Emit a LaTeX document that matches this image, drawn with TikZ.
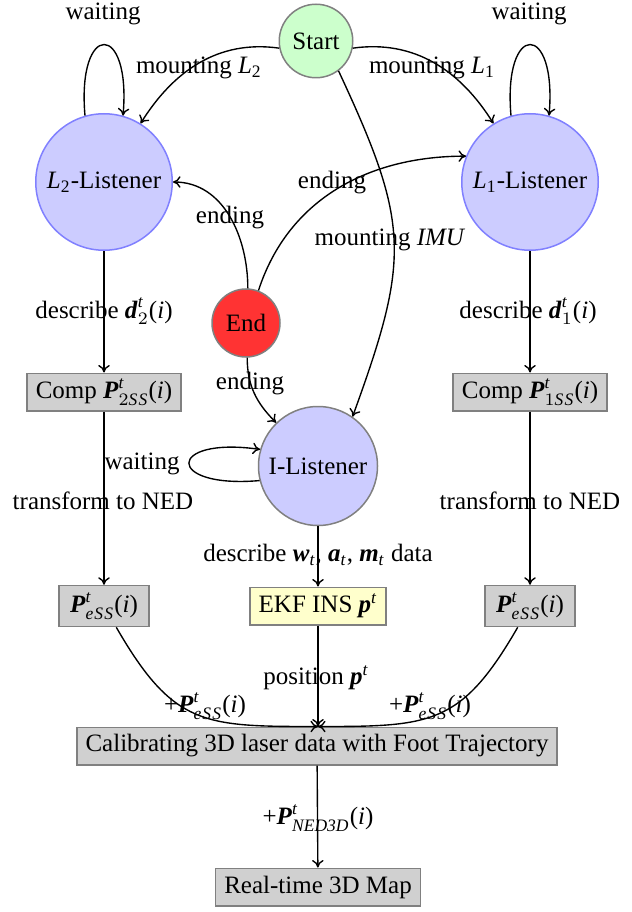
\documentclass[tikz,border=0pt]{standalone}
\usepackage{amsmath}
\usepackage{fontspec}
\setmainfont{Liberation Serif}
\usetikzlibrary{arrows.meta}
\definecolor{startfill}{RGB}{204,255,204}
\definecolor{lisfill}{RGB}{204,204,255}
\definecolor{lisborder}{RGB}{128,128,255}
\definecolor{endfill}{RGB}{255,51,51}
\definecolor{boxfill}{RGB}{208,208,208}
\definecolor{boxborder}{RGB}{128,128,128}
\definecolor{ekffill}{RGB}{255,255,204}
\newcommand{\bv}[1]{\textbf{\textit{#1}}}
\newcommand{\ess}{\textit{e\kern0.4pt S\kern0.5pt S}}
\begin{document}
\begin{tikzpicture}[x=0.4pt,y=0.4pt,
  font=\fontsize{10}{12}\selectfont,
  every node/.style={inner sep=0pt},
  statec/.style={circle,draw=boxborder,line width=0.6pt,align=center},
  boxn/.style={rectangle,draw=boxborder,fill=boxfill,line width=0.6pt,inner xsep=3.5pt,minimum height=15pt},
  lbl/.style={inner sep=0pt},
  conn/.style={line width=0.55pt,-{To[length=3pt,width=4.6pt]}}]
\useasboundingbox (0,0) rectangle (632,-912);
% states
\node[statec,fill=startfill,minimum size=29.4pt] (start) at (316,-41) {Start};
\node[statec,fill=lisfill,draw=lisborder,minimum size=54.6pt] (l2) at (104,-182) {\textit{L}\textsubscript{2}-Listener};
\node[statec,fill=lisfill,draw=lisborder,minimum size=54.6pt] (l1) at (530,-182) {\textit{L}\textsubscript{1}-Listener};
\node[statec,fill=endfill,minimum size=27.2pt] (end) at (246,-323) {End};
\node[statec,fill=lisfill,minimum size=47.6pt] (ilis) at (318,-466) {I-Listener};
% boxes
\node[boxn] (comp2) at (104,-392) {Comp $\bv{P}^{\textit{t}}_{2\textit{S\kern0.5pt S}}$(\textit{i})};
\node[boxn] (comp1) at (530,-392) {Comp $\bv{P}^{\textit{t}}_{1\textit{S\kern0.5pt S}}$(\textit{i})};
\node[boxn,minimum height=16.4pt,inner xsep=4.5pt] (pl) at (104,-606) {$\bv{P}^{\textit{t}}_{\ess}$(\textit{i})};
\node[boxn,fill=ekffill] (ekf) at (318,-606) {EKF INS $\bv{p}^{\textit{t}}$};
\node[boxn,minimum height=16.4pt,inner xsep=4.5pt] (pr) at (530,-606) {$\bv{P}^{\textit{t}}_{\ess}$(\textit{i})};
\node[boxn] (cal) at (317,-746) {Calibrating 3D laser data with Foot Trajectory};
\node[boxn] (map) at (318,-887) {Real-time 3D Map};
% connectors
\draw[conn] (start.191) to[out=172,in=58] (l2.58);
\draw[conn] (start.-11) to[out=8,in=122] (l1.122);
\draw[conn] (l2.106) to[out=95,in=85,distance=38pt] (l2.74);
\draw[conn] (l1.106) to[out=95,in=85,distance=38pt] (l1.74);
\draw[conn] (start.-53) to[out=-65,in=70,looseness=1.25] (ilis.55);
\draw[conn] (end.87) to[out=90,in=0] (l2.east);
\draw[conn] (end.69) to[out=72,in=180] (l1.158);
\draw[conn] (end.-88) to[out=-90,in=135] (ilis.134);
\draw[conn] (ilis.194) to[out=185,in=172,distance=38pt] (ilis.164);
\draw[conn] (l2) -- (comp2);
\draw[conn] (l1) -- (comp1);
\draw[conn] (comp2) -- (pl);
\draw[conn] (comp1) -- (pr);
\draw[conn] (ilis) -- (ekf);
\draw[conn] (ekf) -- (ekf |- cal.north);
\draw[conn] (pl) to[out=-60,in=180,looseness=1.3] (ekf |- cal.north);
\draw[conn] (pr) to[out=-120,in=0,looseness=1.3] (ekf |- cal.north);
\draw[conn] (cal) -- (map);
% labels
\node[lbl] (w2) at (103,-14) {waiting};
\node[lbl] (w1) at (529,-14) {waiting};
\node[lbl] (ml2) at (199,-68) {mounting \textit{L}\textsubscript{2}};
\node[lbl] (ml1) at (432,-68) {mounting \textit{L}\textsubscript{1}};
\node[lbl] (e1) at (332,-183) {ending};
\node[lbl] (e2) at (230,-218) {ending};
\node[lbl] (mimu) at (390,-240) {mounting \textit{IMU}};
\node[lbl] (d2) at (104,-311) {describe $\bv{d}^{\textit{t}}_{2}$(\textit{i})};
\node[lbl] (d1) at (528,-311) {describe $\bv{d}^{\textit{t}}_{1}$(\textit{i})};
\node[lbl] (e3) at (250,-384) {ending};
\node[lbl] (wi) at (142,-464) {waiting};
\node[lbl] (t2) at (103,-501) {transform to NED};
\node[lbl] (t1) at (530,-501) {transform to NED};
\node[lbl] (dw) at (318,-555) {describe $\bv{w}_{\textit{t}}$, $\bv{a}_{\textit{t}}$, $\bv{m}_{\textit{t}}$ data};
\node[lbl] (pos) at (316,-678) {position $\bv{p}^{\textit{t}}$};
\node[lbl] (ppl) at (205,-706) {+$\bv{P}^{\textit{t}}_{\ess}$(\textit{i})};
\node[lbl] (ppr) at (430,-706) {+$\bv{P}^{\textit{t}}_{\ess}$(\textit{i})};
\node[lbl] (pned) at (318,-818) {+$\bv{P}^{\textit{t}}_{\textit{NED3D}}$(\textit{i})};
\end{tikzpicture}
\end{document}
